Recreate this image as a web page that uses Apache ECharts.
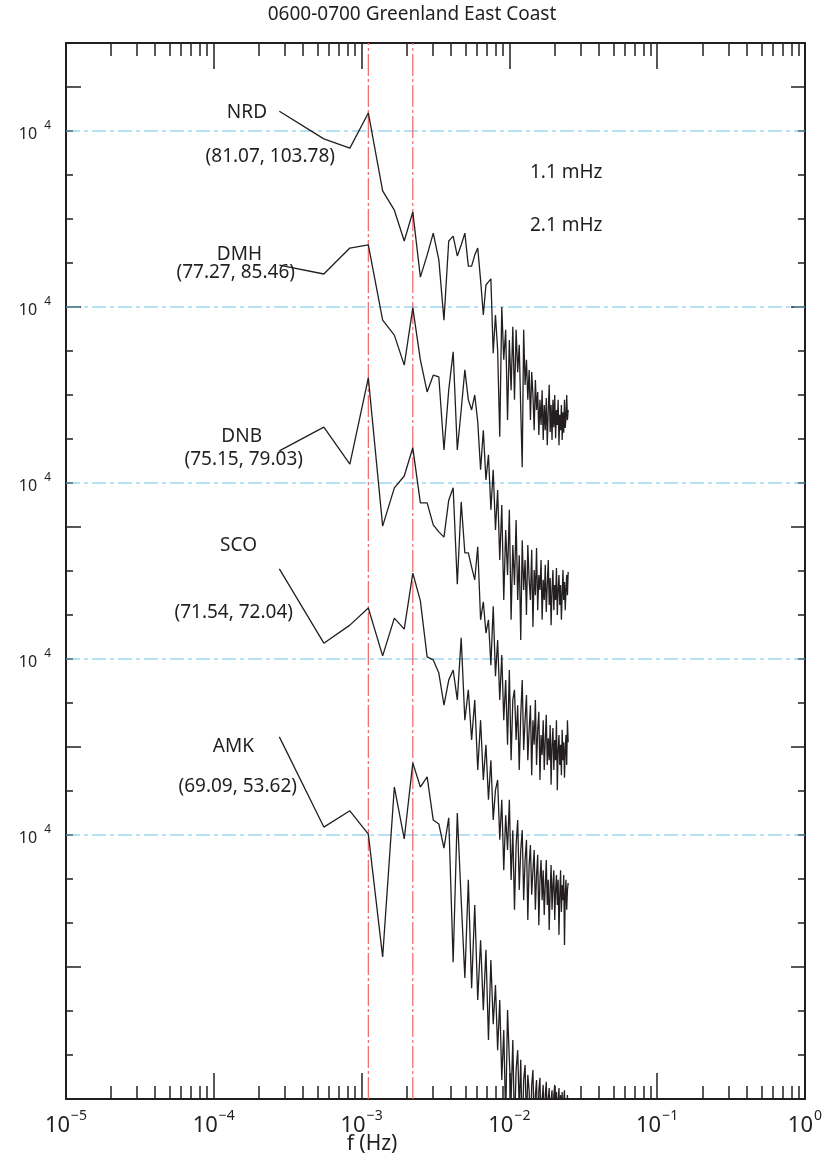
<!DOCTYPE html>
<html>
<head>
<meta charset="utf-8">
<title>0600-0700 Greenland East Coast</title>
<script src="https://cdn.jsdelivr.net/npm/echarts@6/dist/echarts.min.js"></script>
<style>
  html, body { margin: 0; padding: 0; background: #fff; }
  #chart { width: 825px; height: 1161px; }
</style>
</head>
<body>
<div id="chart"></div>
<script>
// spectra for one hour of data -> bins of 1/3600 Hz
const FREQ_STEP = 1 / 3600

// each station's spectrum, relative to its own 10^4 line
// (units: one y tick)
const nrd = [0.45, -0.18, -0.39, 0.41, -1.36, -1.80, -2.50, -1.84, -3.32, -2.82, -2.32, -2.93, -4.30, -2.50, -2.39, -2.84, -2.59, -2.32, -3.07, -3.07, -2.82, -2.66, -3.39, -4.18, -3.50, -3.43, -3.36, -5.05, -4.18,
  -4.98, -6.95, -4.00, -5.20, -4.52, -6.57, -4.75, -5.89, -4.45, -6.11, -4.52, -5.48, -4.86, -6.34, -7.64, -4.52, -5.77, -5.20, -6.11, -5.43, -6.57, -5.48, -6.00, -6.80, -5.66, -6.34, -5.93, -6.91, -6.11, -6.68, -5.89, -7.02, -6.23, -6.80, -6.07, -7.14, -6.34, -5.77, -6.84, -6.23, -7.02, -6.11, -6.73, -6.00, -6.98, -6.34, -6.68, -6.11, -7.14, -6.45, -6.80, -6.23, -7.02, -6.39, -6.86, -6.11, -6.75, -6.52, -6.00, -6.57, -6.34]
const dmh = [0.95, 0.75, 1.34, 1.41, -0.30, -0.64, -1.32, -0.02, -1.20, -1.93, -1.55, -1.59, -3.25, -1.89, -1.02, -3.25, -2.34, -1.43, -2.11, -2.34, -2.00, -2.61, -3.70, -2.80, -3.93, -3.36, -4.61, -3.70, -5.07,
  -4.16, -5.75, -4.50, -6.66, -5.07, -6.09, -4.61, -7.11, -5.41, -6.32, -4.84, -6.66, -5.64, -7.57, -5.30, -6.43, -5.75, -7.00, -5.41, -6.20, -6.66, -5.52, -7.27, -5.98, -6.55, -5.48, -6.89, -6.09, -6.43, -5.75, -7.11, -6.20, -6.66, -5.86, -6.93, -6.32, -5.75, -6.77, -6.16, -7.23, -6.43, -5.98, -6.89, -6.32, -6.66, -5.93, -7.00, -6.43, -6.09, -6.77, -6.32, -7.11, -6.55, -5.98, -6.66, -6.25, -6.89, -6.43, -6.09, -6.55, -6.02]
const dnb = [0.73, 1.27, 0.43, 2.39, -0.98, -0.11, 0.16, 0.80, -0.45, -0.45, -0.95, -1.11, -1.23, -0.39, -0.11, -2.30, -0.43, -1.59, -1.59, -1.91, -2.20, -1.45, -3.11, -2.70, -3.41, -3.11, -4.14, -2.80, -4.39,
  -3.57, -4.93, -3.91, -5.39, -4.48, -5.95, -4.25, -6.30, -4.93, -4.70, -5.84, -5.05, -6.52, -5.27, -4.48, -6.07, -5.39, -4.82, -6.30, -5.61, -5.05, -6.64, -5.39, -5.95, -4.93, -6.41, -5.61, -5.20, -6.75, -5.73, -6.18, -5.39, -6.52, -5.84, -5.27, -6.41, -5.80, -6.30, -5.50, -6.86, -5.95, -5.57, -6.52, -5.84, -6.30, -5.39, -6.98, -6.07, -5.73, -6.41, -5.95, -6.64, -5.61, -6.30, -5.89, -6.70, -6.07, -5.73, -6.41, -5.39, -5.89]
const sco = [2.05, 0.36, 0.77, 1.16, 0.07, 0.93, 0.68, 1.95, 1.32, 0.05, -0.02, -0.32, -1.05, -0.48, -0.25, -0.93, 0.48, -1.39, -0.70, -1.84, -0.93, -2.52, -1.39, -2.75, -1.95, -3.20, -2.30, -3.66, -2.98,
  -2.75, -4.11, -3.20, -4.80, -3.55, -4.34, -3.20, -5.02, -3.89, -5.70, -4.23, -3.66, -5.25, -4.34, -3.89, -5.48, -4.57, -4.11, -5.93, -4.68, -4.23, -5.36, -4.80, -4.34, -5.70, -4.91, -4.45, -6.05, -5.02, -4.57, -5.48, -4.80, -5.82, -5.14, -4.57, -5.59, -5.02, -6.16, -5.25, -4.68, -5.70, -5.14, -4.80, -5.93, -5.25, -4.91, -5.59, -5.02, -6.27, -5.36, -4.80, -5.75, -5.14, -5.48, -4.91, -6.50, -5.36, -5.02, -5.70, -5.25, -5.09]
const amk = [2.23, 0.18, 0.55, 0.02, -2.77, 1.09, -0.09, 1.64, 1.09, 1.32, 0.34, 0.25, -0.30, 0.39, -2.89, 0.50, -1.48, -3.25, -1.02, -3.48, -1.59, -3.75, -2.39, -3.98, -2.61, -4.66, -2.84, -4.30, -3.41,
  -4.89, -3.75, -5.57, -4.43, -6.48, -3.98, -5.11, -6.02, -4.66, -6.70, -5.34, -4.89, -6.25, -5.11, -6.93, -5.57, -5.23, -6.59, -5.45, -5.80, -6.93, -5.68, -5.34, -6.70, -5.91, -5.57, -7.16, -5.80, -5.52, -6.82, -6.02, -5.68, -7.05, -5.91, -5.61, -6.70, -5.98, -5.75, -7.16, -6.02, -5.80, -6.93, -5.91, -5.68, -6.59, -5.84, -7.16, -6.02, -5.75, -6.82, -5.91, -6.48, -5.84, -7.16, -6.02, -5.80, -6.70, -5.98, -7.05, -5.91, -6.48]

const stations = ['NRD', 'DMH', 'DNB', 'SCO', 'AMK']
const coords = ['(81.07, 103.78)', '(77.27, 85.46)', '(75.15, 79.03)', '(71.54, 72.04)', '(69.09, 53.62)']
const spectra = [nrd, dmh, dnb, sco, amk]
// where each station's 10^4 line sits on the stacked axis
const baselines = [22, 18, 14, 10, 6]
// marked frequencies (Hz)
const markFreqs = [1.111e-3, 2.222e-3]
const markNames = ['1.1 mHz', '2.1 mHz']
// axis ticks
const yMajorTicks = [3, 8, 13, 18, 23]
const xMinorTicks = []
for (let d = -5; d < 0; d++) {
  for (let m = 2; m <= 9; m++) xMinorTicks.push(m * Math.pow(10, d))
}

const FONT = '"Noto Sans", "Open Sans", sans-serif'
const INK = '#231f20'
const X_MIN = 1e-5
const X_MAX = 1
const Y_MIN = 0
const Y_MAX = 24

let myChart = echarts.init(document.getElementById('chart'))

// label positions (x is the right edge of the text)
const nameXY = [[267, 113], [262, 255], [262, 437], [257, 546], [254, 747]]
const coordXY = [[335, 157], [295, 273], [303, 460], [293, 613], [297, 787]]

const TXT = '19px ' + FONT
let graphics = [
  { type: 'text', x: 412, y: 15, style: { text: '0600-0700 Greenland East Coast', font: TXT, fill: INK, align: 'center', verticalAlign: 'middle' } },
  { type: 'text', x: 372, y: 1144, style: { text: 'f (Hz)', font: '21px ' + FONT, fill: INK, align: 'center', verticalAlign: 'middle' } },
  { type: 'text', x: 530, y: 173, style: { text: markNames[0], font: TXT, fill: INK, align: 'left', verticalAlign: 'middle' } },
  { type: 'text', x: 530, y: 226, style: { text: markNames[1], font: TXT, fill: INK, align: 'left', verticalAlign: 'middle' } }
]
stations.forEach(function (name, i) {
  graphics.push({ type: 'text', x: nameXY[i][0], y: nameXY[i][1], style: { text: name, font: TXT, fill: INK, align: 'right', verticalAlign: 'middle' } })
  graphics.push({ type: 'text', x: coordXY[i][0], y: coordXY[i][1], style: { text: coords[i], font: TXT, fill: INK, align: 'right', verticalAlign: 'middle' } })
})

function supLabel (exp) {
  return '{b|10}{s|' + String(exp).replace('-', '\u2212') + '}'
}

const frameLine = { show: true, onZero: false, lineStyle: { color: INK, width: 2 } }
const noLine = { show: false, onZero: false }

let series = []
// the blue 10^4 lines
baselines.forEach(function (b) {
  series.push({
    type: 'line', xAxisIndex: 0, yAxisIndex: 0, symbol: 'none', silent: true, z: 1,
    lineStyle: { color: '#6cc3e6', width: 1.2, type: [14, 4, 4, 4] },
    data: [[X_MIN, b], [X_MAX, b]]
  })
})
// red lines at the marked frequencies
markFreqs.forEach(function (f) {
  series.push({
    type: 'line', xAxisIndex: 0, yAxisIndex: 0, symbol: 'none', silent: true, z: 1,
    lineStyle: { color: '#ef6464', width: 1.2, type: [22, 3, 3, 3] },
    data: [[f, Y_MIN], [f, Y_MAX]]
  })
})
spectra.forEach(function (rel, i) {
  series.push({
    name: stations[i],
    type: 'line',
    xAxisIndex: 0,
    yAxisIndex: 0,
    symbol: 'none',
    clip: true,
    z: 3,
    lineStyle: { color: INK, width: 1.3 },
    data: rel.map(function (v, k) { return [(k + 1) * FREQ_STEP, baselines[i] + v] })
  })
})

function logAxis (grid, pos, tick, labelled) {
  return {
    type: 'log', gridIndex: grid, position: pos, min: X_MIN, max: X_MAX, logBase: 10,
    axisLine: grid === 0 ? frameLine : noLine,
    axisTick: tick,
    axisLabel: labelled ? {
      margin: 10,
      color: INK,
      formatter: function (v) { return supLabel(Math.round(Math.log10(v))) },
      rich: {
        b: { fontSize: 22, fontFamily: FONT, color: INK, verticalAlign: 'bottom', lineHeight: 28 },
        s: { fontSize: 14, fontFamily: FONT, color: INK, verticalAlign: 'top', lineHeight: 28, padding: [0, 0, 0, 1] }
      }
    } : { show: false },
    splitLine: { show: false }
  }
}

function valueAxis (grid, pos, tick, labelled) {
  return {
    type: 'value', gridIndex: grid, position: pos, min: Y_MIN, max: Y_MAX, interval: 1,
    axisLine: grid === 0 ? frameLine : noLine,
    axisTick: tick,
    axisLabel: labelled ? {
      customValues: baselines,
      margin: 15,
      formatter: function () { return '{b|10}{s|4}' },
      rich: {
        b: { fontSize: 16, fontFamily: FONT, color: INK, verticalAlign: 'bottom', lineHeight: 22 },
        s: { fontSize: 12, fontFamily: FONT, color: INK, verticalAlign: 'top', lineHeight: 22, padding: [0, 0, 0, 7] }
      }
    } : { show: false },
    splitLine: { show: false }
  }
}

const decadeTick = { inside: true, length: 26, lineStyle: { color: INK, width: 1.5 } }
const minorXTick = { inside: true, length: 13, customValues: xMinorTicks, lineStyle: { color: INK, width: 1.5 } }
const minorYTick = { inside: true, length: 7, lineStyle: { color: INK, width: 1.5 } }
const majorYTick = { inside: true, length: 15, customValues: yMajorTicks, lineStyle: { color: INK, width: 1.5 } }

let option = {
  animation: false,
  backgroundColor: '#fff',
  textStyle: { fontFamily: FONT },
  grid: [
    { left: 66, right: 19, top: 43, bottom: 62 },
    { left: 66, right: 19, top: 43, bottom: 62 }
  ],
  xAxis: [
    logAxis(0, 'bottom', decadeTick, true),
    logAxis(0, 'top', decadeTick, false),
    logAxis(1, 'bottom', minorXTick, false),
    logAxis(1, 'top', minorXTick, false)
  ],
  yAxis: [
    valueAxis(0, 'left', minorYTick, true),
    valueAxis(0, 'right', minorYTick, false),
    valueAxis(1, 'left', majorYTick, false),
    valueAxis(1, 'right', majorYTick, false)
  ],
  graphic: graphics,
  series: series
}

myChart.setOption(option)

window.addEventListener('resize', function () {
  myChart.resize()
})
</script>
</body>
</html>
